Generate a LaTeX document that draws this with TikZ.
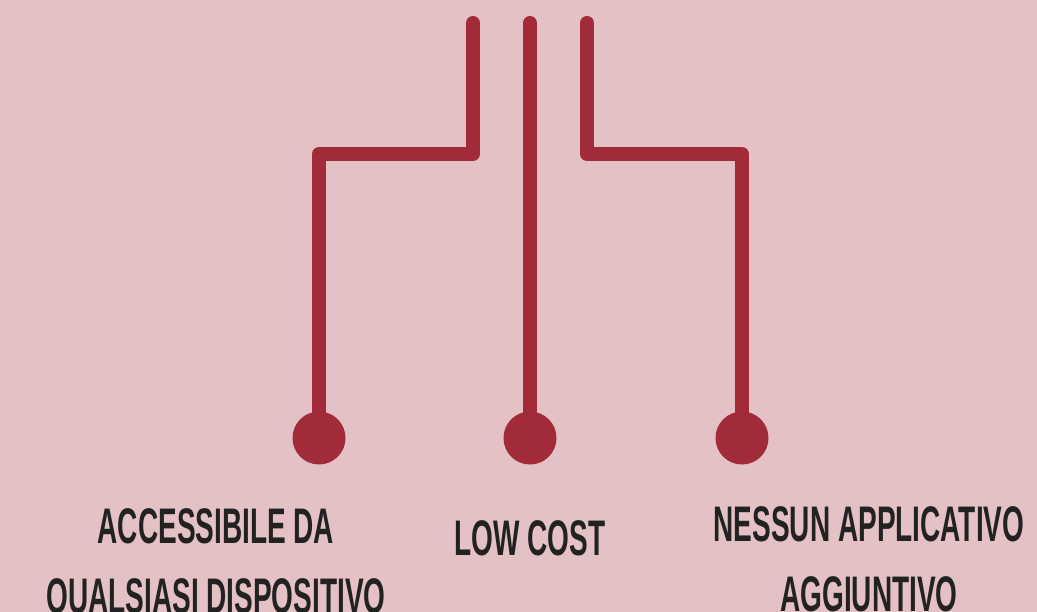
\documentclass[tikz,border=0pt]{standalone}
\usepackage{fontspec}
\newfontfamily\labelfont[FakeStretch=0.56]{Liberation Sans Bold}
\definecolor{bgpink}{RGB}{228,193,197}
\definecolor{wire}{RGB}{162,43,58}
\definecolor{ink}{RGB}{34,34,34}
\begin{document}
\begin{tikzpicture}[x=1pt,y=-1pt,
  wireline/.style={draw=wire,line width=14pt,line cap=round,line join=round},
  dot/.style={circle,fill=wire,inner sep=0pt,minimum size=53pt},
  lbl/.style={text=ink,font=\labelfont\fontsize{50}{70}\selectfont,align=center,inner sep=0pt,anchor=base}]
\fill[bgpink] (0,0) rectangle (1037,612);
\useasboundingbox (0,0) rectangle (1037,612);
\coordinate (tL) at (473,23);
\coordinate (tM) at (530,23);
\coordinate (tR) at (587,23);
\node[dot] (cL) at (319,438) {};
\node[dot] (cM) at (530,438) {};
\node[dot] (cR) at (742,438) {};
\draw[wireline] (tL) -- ++(0,131) -| (cL.center);
\draw[wireline] (tM) -- (cM.center);
\draw[wireline] (tR) -- ++(0,131) -| (cR.center);
\node[lbl] (aL) at (216,613) {ACCESSIBILE DA\\QUALSIASI DISPOSITIVO};
\node[lbl] (aM) at (530,555) {LOW COST};
\node[lbl] (aR) at (869,611) {NESSUN APPLICATIVO\\AGGIUNTIVO};
\end{tikzpicture}
\end{document}
